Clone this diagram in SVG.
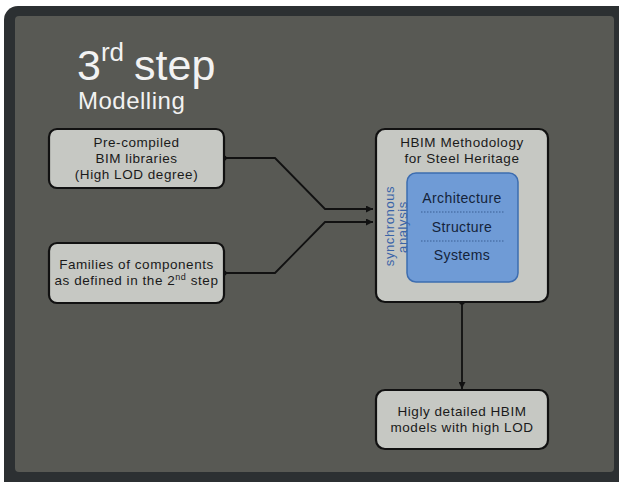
<svg xmlns="http://www.w3.org/2000/svg" width="619" height="482" viewBox="0 0 619 482">
<style>
.box{fill:#c6c8c3;stroke:#111;stroke-width:2.2}
.t{font-family:"Liberation Sans",Arial,sans-serif;font-size:13.5px;letter-spacing:0.55px;fill:#1a1a1a;text-anchor:middle}
.b{font-family:"Liberation Sans",Arial,sans-serif;font-size:14px;letter-spacing:0.4px;fill:#14233a;text-anchor:middle}
.v{font-family:"Liberation Sans",Arial,sans-serif;font-size:13px;letter-spacing:0.6px;fill:#3a64a8;text-anchor:middle}
.w{font-family:"Liberation Sans",Arial,sans-serif;fill:#f2f2f2}
.c{fill:none;stroke:#111;stroke-width:1.8}
.sep{stroke:#3a5f94;stroke-width:1;stroke-dasharray:1.5 1.5}
</style>
<defs>
<marker id="ah" viewBox="0 0 10 10" refX="10" refY="5" markerWidth="7" markerHeight="7" markerUnits="userSpaceOnUse" orient="auto">
<path d="M0,0 L10,5 L0,10 z" fill="#111"/>
</marker>
</defs>
<rect x="0" y="0" width="619" height="482" fill="#ffffff"/>
<rect x="4" y="6" width="630" height="490" rx="14" fill="#2c3032"/>
<rect x="15" y="16" width="599" height="456" rx="4" fill="#585954"/>
<g id="title">
<text class="w" x="77" y="80" font-size="43">3<tspan font-size="26" dy="-19">rd</tspan><tspan dy="19" dx="10">step</tspan></text>
<text class="w" x="78" y="109" font-size="24" letter-spacing="0.5">Modelling</text>
</g>
<g id="connectors">
<polyline class="c" points="224,158 275,158 325,209 373,209" marker-end="url(#ah)"/>
<polyline class="c" points="224,273 275,273 325,222 373,222" marker-end="url(#ah)"/>
<line class="c" x1="462" y1="302" x2="462" y2="389" marker-end="url(#ah)"/>
<circle cx="224" cy="158" r="2.6" fill="#111"/>
<circle cx="224" cy="273" r="2.6" fill="#111"/>
<circle cx="462" cy="302" r="2.8" fill="#111"/>
</g>
<g id="precompiled">
<rect class="box" x="49" y="129" width="175" height="59" rx="8"/>
<text class="t" x="136.5" y="147">Pre-compiled</text>
<text class="t" x="136.5" y="163">BIM libraries</text>
<text class="t" x="136.5" y="179">(High LOD degree)</text>
</g>
<g id="families">
<rect class="box" x="49" y="243" width="175" height="60" rx="8"/>
<text class="t" x="136.5" y="269">Families of components</text>
<text class="t" x="136.5" y="285">as defined in the 2<tspan font-size="9" dy="-5">nd</tspan><tspan dy="5"> step</tspan></text>
</g>
<g id="hbim">
<rect class="box" x="376" y="129" width="172" height="173" rx="9"/>
<text class="t" x="462" y="147">HBIM Methodology</text>
<text class="t" x="462" y="163">for Steel Heritage</text>
<rect x="407" y="173" width="111" height="109" rx="9" fill="#6f9bd6" stroke="#3d6db0" stroke-width="1.5"/>
<line class="sep" x1="421" y1="212" x2="505" y2="212"/>
<line class="sep" x1="421" y1="241" x2="505" y2="241"/>
<text class="b" x="462" y="203">Architecture</text>
<text class="b" x="462" y="232">Structure</text>
<text class="b" x="462" y="260">Systems</text>
<text class="v" transform="translate(394,226) rotate(-90)">synchronous</text>
<text class="v" transform="translate(407,227) rotate(-90)">analysis</text>
</g>
<g id="output">
<rect class="box" x="376" y="390" width="172" height="59" rx="9"/>
<text class="t" x="462" y="416">Higly detailed HBIM</text>
<text class="t" x="462" y="432">models with high LOD</text>
</g>
</svg>
